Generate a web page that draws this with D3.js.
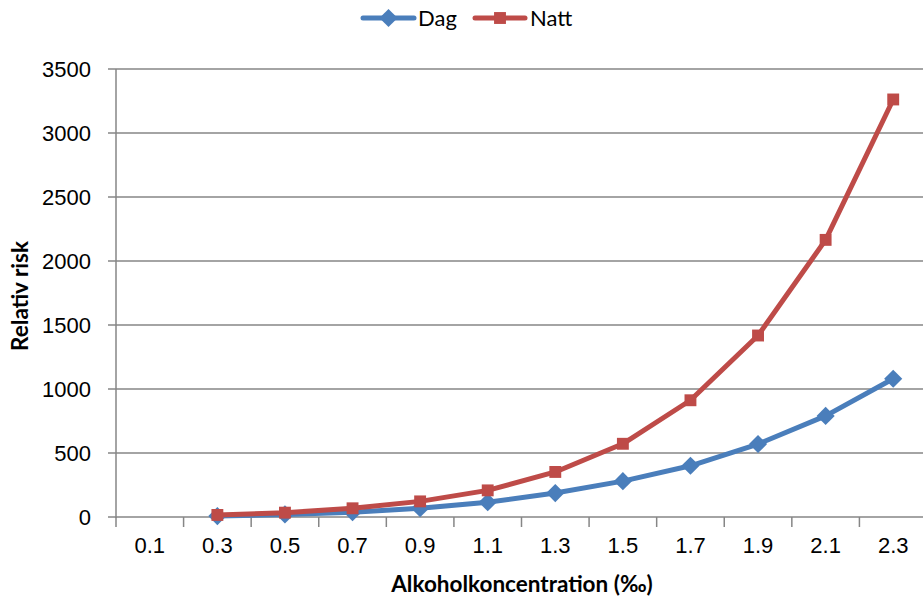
<!DOCTYPE html>
<html>
<head>
<meta charset="utf-8">
<script src="https://cdn.jsdelivr.net/npm/d3@7/dist/d3.min.js"></script>
<style>
  html, body { margin: 0; padding: 0; background: #fff; }
  svg { display: block; font-family: Lato, "Open Sans", "Liberation Sans", sans-serif; }
</style>
</head>
<body>
<svg id="chart" width="923" height="601"></svg>
<script>
// Alcohol concentration (per mille) categories
const categories = ["0.1", "0.3", "0.5", "0.7", "0.9", "1.1", "1.3", "1.5", "1.7", "1.9", "2.1", "2.3"];
// Relative risk by day and by night (no value at 0.1)
const dagValues  = [null, 7, 20, 38, 68, 115, 187, 280, 400, 570, 790, 1080];
const nattValues = [null, 16, 34, 68, 122, 208, 352, 572, 912, 1418, 2165, 3262];
const yTicks = [0, 500, 1000, 1500, 2000, 2500, 3000, 3500];

const series = [
  { name: "Dag",  values: dagValues,  color: "#4A7EBB", marker: "diamond" },
  { name: "Natt", values: nattValues, color: "#BE4B48", marker: "square" }
];

const svg = d3.select("#chart");
const plotLeft = 116, plotRight = 927, plotTop = 69, plotBottom = 517;

const x = d3.scaleBand().domain(categories).range([plotLeft, plotRight]).paddingInner(0).paddingOuter(0);
const y = d3.scaleLinear().domain([0, 3500]).range([plotBottom, plotTop]);

const axisColor = "#868686";
const labelSize = 22;

// y labels
const yAxis = svg.append("g")
  .attr("transform", `translate(${plotLeft},0)`)
  .call(d3.axisLeft(y).tickValues(yTicks).tickSize(0).tickPadding(25).tickFormat(d3.format("d")));
yAxis.select(".domain").remove();
yAxis.selectAll("text").attr("font-size", labelSize).attr("fill", "#000");

// horizontal gridlines with outward ticks
svg.append("g").selectAll("line").data(yTicks).join("line")
  .attr("x1", plotLeft - 8).attr("x2", plotRight)
  .attr("y1", d => y(d)).attr("y2", d => y(d))
  .attr("stroke", axisColor).attr("stroke-width", 1.5);

// y axis line
svg.append("line").attr("x1", plotLeft).attr("x2", plotLeft).attr("y1", plotTop).attr("y2", plotBottom + 1)
  .attr("stroke", axisColor).attr("stroke-width", 1.5);

// x axis: labels centered in bands, ticks at band boundaries
const xAxis = svg.append("g")
  .attr("transform", `translate(0,${plotBottom})`)
  .call(d3.axisBottom(x).tickSize(0).tickPadding(20));
xAxis.select(".domain").remove();
xAxis.selectAll("text").attr("font-size", labelSize).attr("fill", "#000");

const boundaries = categories.map(c => x(c)).concat([x(categories[categories.length - 1]) + x.bandwidth()]);
svg.append("g").selectAll("line").data(boundaries).join("line")
  .attr("x1", d => d).attr("x2", d => d)
  .attr("y1", plotBottom).attr("y2", plotBottom + 10)
  .attr("stroke", axisColor).attr("stroke-width", 1.5);

// series lines and markers
const line = d3.line()
  .defined(d => d.v != null)
  .x(d => x(d.c) + x.bandwidth() / 2)
  .y(d => y(d.v));

const diamond = d3.symbol().type(d3.symbolDiamond2).size(210);
const square = d3.symbol().type(d3.symbolSquare2).size(180);

series.forEach(s => {
  const pts = categories.map((c, i) => ({ c, v: s.values[i] }));
  svg.append("path").datum(pts)
    .attr("d", line).attr("fill", "none")
    .attr("stroke", s.color).attr("stroke-width", 5)
    .attr("stroke-linejoin", "round");
  svg.append("g").selectAll("path").data(pts.filter(d => d.v != null)).join("path")
    .attr("transform", d => `translate(${x(d.c) + x.bandwidth() / 2},${y(d.v)})`)
    .attr("d", s.marker === "diamond" ? diamond() : square())
    .attr("fill", s.color);
});

// legend
const legendItems = [
  { s: series[0], x0: 363, x1: 414, tx: 418 },
  { s: series[1], x0: 475, x1: 525, tx: 530 }
];
const ly = 18;
legendItems.forEach(it => {
  const g = svg.append("g");
  g.append("line").attr("x1", it.x0).attr("x2", it.x1).attr("y1", ly).attr("y2", ly)
    .attr("stroke", it.s.color).attr("stroke-width", 5).attr("stroke-linecap", "round");
  g.append("path").attr("transform", `translate(${(it.x0 + it.x1) / 2},${ly})`)
    .attr("d", it.s.marker === "diamond" ? diamond() : square())
    .attr("fill", it.s.color);
  g.append("text").attr("x", it.tx).attr("y", ly + 8).attr("font-size", labelSize).attr("fill", "#000").text(it.s.name);
});

// axis titles
svg.append("text")
  .attr("transform", `translate(28,296) rotate(-90)`)
  .attr("text-anchor", "middle").attr("font-size", 22.5).attr("font-weight", "bold")
  .text("Relativ risk");

svg.append("text")
  .attr("x", 522).attr("y", 592)
  .attr("text-anchor", "middle").attr("font-size", 22.5).attr("font-weight", "bold")
  .text("Alkoholkoncentration (‰)");
</script>
</body>
</html>
